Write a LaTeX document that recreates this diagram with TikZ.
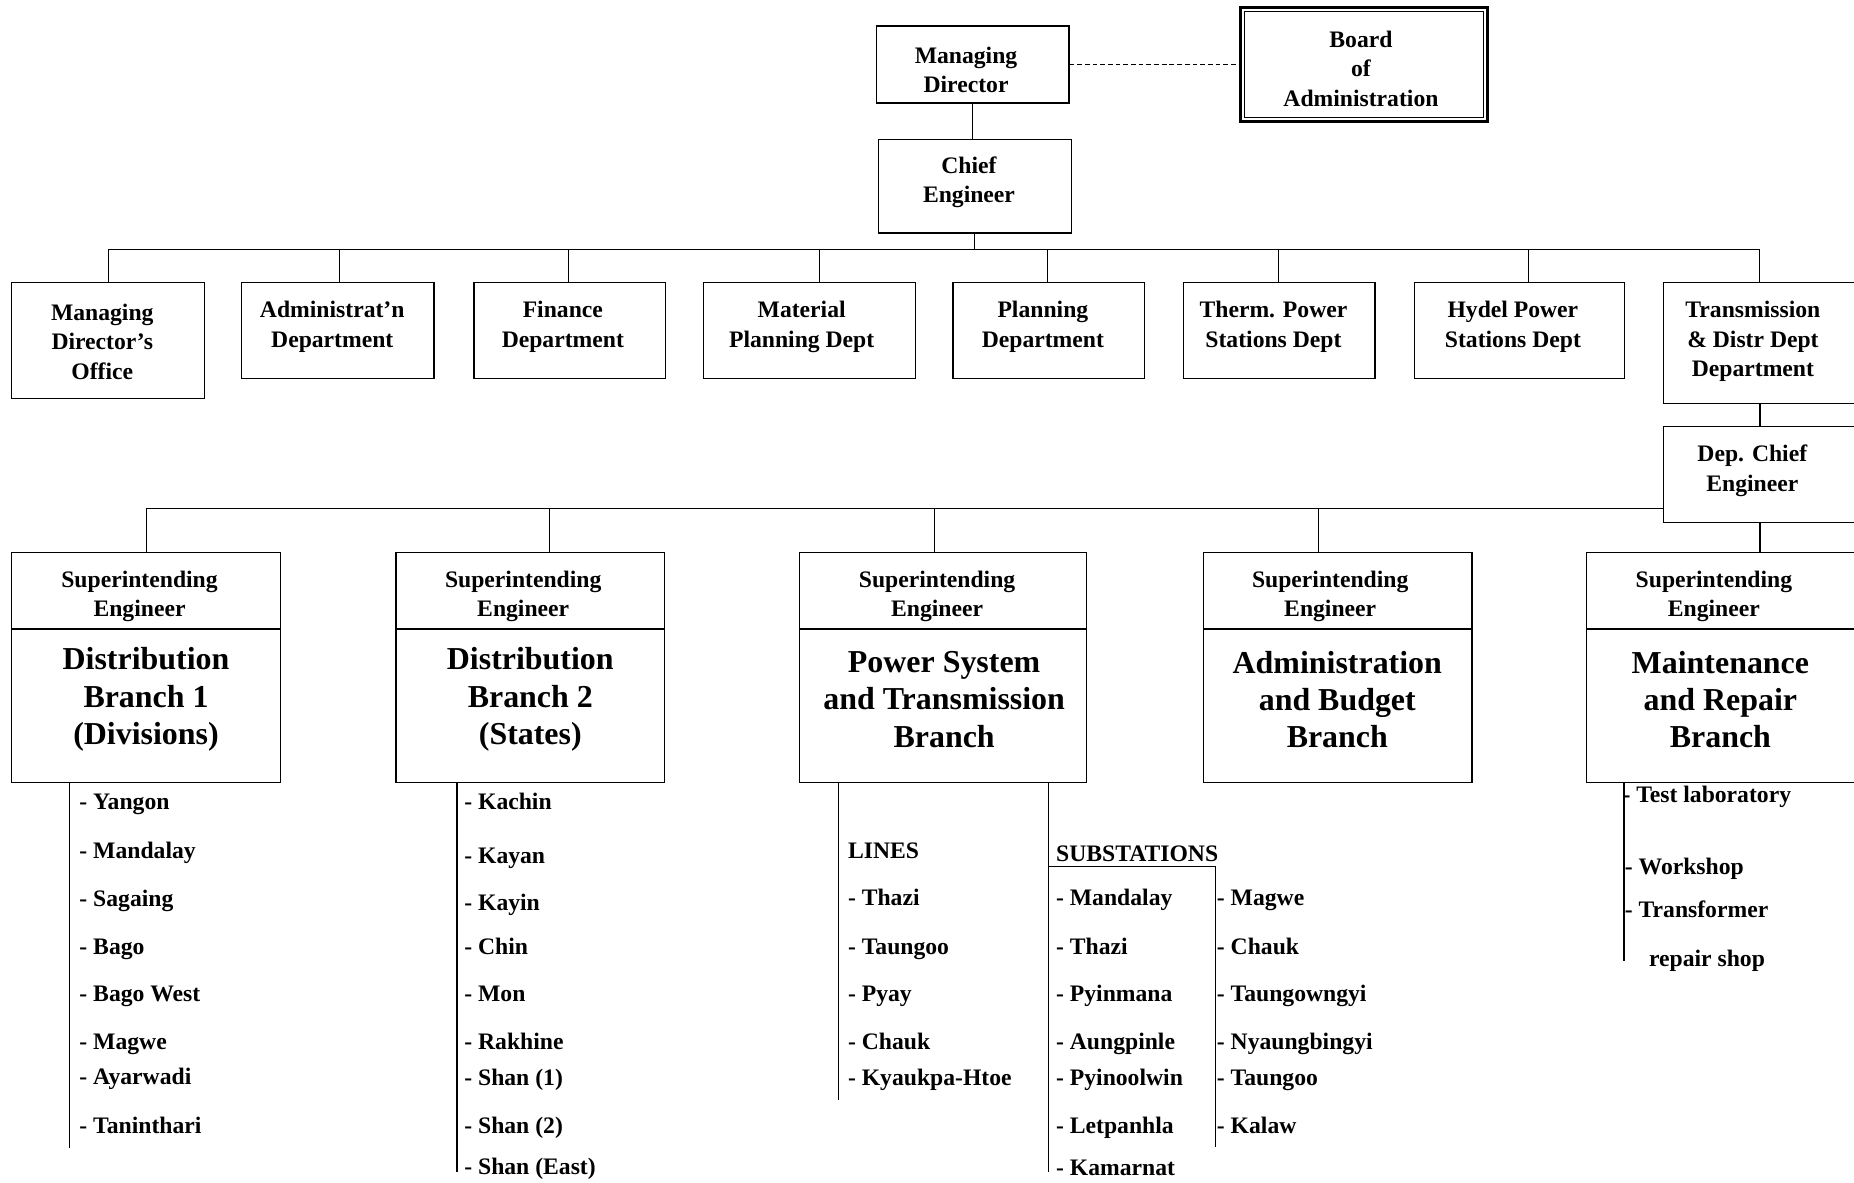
\documentclass[tikz,border=0pt]{standalone}
\usepackage{fontspec}
\setmainfont{Liberation Serif}
\usetikzlibrary{calc}
\begin{document}
\begin{tikzpicture}[x=1pt,y=-1pt,
  box/.style={draw=black,line width=1.1pt,inner sep=0pt,fill=white},
  conn/.style={draw=black,line width=1pt},
  lbl/.style={inner sep=0pt,align=center,yshift=-2pt,font=\bfseries\fontsize{20}{25}\selectfont},
  biglbl/.style={inner sep=0pt,align=center,yshift=-1.5pt,font=\bfseries\fontsize{27}{31.5}\selectfont},
  item/.style={inner sep=0pt,anchor=west,yshift=-2pt,text height=14pt,text depth=4pt,font=\bfseries\fontsize{20}{24}\selectfont}]
\useasboundingbox (0,0) rectangle (1568,1000.5);

% ---- top management ----
\node[box,minimum width=163,minimum height=65] (md) at (822.5,54.5) {};
\node[lbl] (mdT) at (817,57) {Managing\\Director};
\node[draw=black,line width=2.5pt,inner sep=0pt,minimum width=209,minimum height=97] (board) at (1153.5,54.5) {};
\draw[line width=0.9pt] ([shift={(5,5)}]board.north west) rectangle ([shift={(-5,-5)}]board.south east);
\node[lbl] (boardT) at (1151,56) {Board\\of\\Administration};
\draw[conn,dash pattern=on 4pt off 2.5pt] (md.east) -- (board.west);

\node[box,minimum width=163,minimum height=79] (ce) at (824.5,157.5) {};
\node[lbl] (ceT) at (819.5,152) {Chief\\Engineer};
\draw[conn] (md.south) -- (md.south |- ce.north);

% ---- departments ----
\node[box,minimum width=163,minimum height=98] (dmo) at (91.5,288) {};
\node[box,minimum width=163,minimum height=81] (dad) at (285.5,279.5) {};
\node[box,minimum width=162,minimum height=81] (dfi) at (482,279.5) {};
\node[box,minimum width=179,minimum height=81] (dmp) at (684.5,279.5) {};
\node[box,minimum width=162,minimum height=81] (dpl) at (887,279.5) {};
\node[box,minimum width=162,minimum height=81] (dth) at (1082,279.5) {};
\node[box,minimum width=178,minimum height=81] (dhy) at (1285,279.5) {};
\node[box,minimum width=163,minimum height=102] (dtr) at (1488.5,290) {};
\node[box,minimum width=163,minimum height=81] (dce) at (1488.5,401.5) {};

\node[lbl] (dmoT) at (86.5,287) {Managing\\Director’s\\Office};
\node[lbl] (dadT) at (281,274.5) {Administrat’n\\Department};
\node[lbl] (dfiT) at (476,274.5) {Finance\\Department};
\node[lbl] (dmpT) at (678,274.5) {Material\\Planning Dept};
\node[lbl] (dplT) at (882,274.5) {Planning\\Department};
\node[lbl] (dthT) at (1077,274.5) {Therm. Power\\Stations Dept};
\node[lbl] (dhyT) at (1279.5,274.5) {Hydel Power\\Stations Dept};
\node[lbl] (dtrT) at (1482.5,287) {Transmission\\\& Distr Dept\\Department};
\node[lbl] (dceT) at (1482,396) {Dep. Chief\\Engineer};

% first bus
\coordinate (t1) at (92,211);
\coordinate (t2) at (287,211);
\coordinate (t3) at (481,211);
\coordinate (t4) at (693,211);
\coordinate (t5) at (886,211);
\coordinate (t6) at (1081,211);
\coordinate (t7) at (1293,211);
\coordinate (t8) at (1488,211);
\draw[conn] (ce.south) -- (ce.south |- t1);
\draw[conn] (t1) -- (t8);
\draw[conn] (t1) -- (t1 |- dmo.north);
\draw[conn] (t2) -- (t2 |- dad.north);
\draw[conn] (t3) -- (t3 |- dfi.north);
\draw[conn] (t4) -- (t4 |- dmp.north);
\draw[conn] (t5) -- (t5 |- dpl.north);
\draw[conn] (t6) -- (t6 |- dth.north);
\draw[conn] (t7) -- (t7 |- dhy.north);
\draw[conn] (t8) -- (t8 |- dtr.north);
\draw[conn] (dtr.south) -- (dce.north);

% ---- branches ----
\node[box,minimum width=227,minimum height=65] (sb1) at (123.5,499.5) {};
\node[box,minimum width=227,minimum height=130] (br1) at (123.5,597) {};
\node[box,minimum width=227,minimum height=65] (sb2) at (448.5,499.5) {};
\node[box,minimum width=227,minimum height=130] (br2) at (448.5,597) {};
\node[box,minimum width=243,minimum height=65] (sb3) at (797.5,499.5) {};
\node[box,minimum width=243,minimum height=130] (br3) at (797.5,597) {};
\node[box,minimum width=227,minimum height=65] (sb4) at (1131.5,499.5) {};
\node[box,minimum width=227,minimum height=130] (br4) at (1131.5,597) {};
\node[box,minimum width=227,minimum height=65] (sb5) at (1455.5,499.5) {};
\node[box,minimum width=227,minimum height=130] (br5) at (1455.5,597) {};

\node[lbl] (sb1T) at (118,502.5) {Superintending\\Engineer};
\node[lbl] (sb2T) at (442.5,502.5) {Superintending\\Engineer};
\node[lbl] (sb3T) at (792.5,502.5) {Superintending\\Engineer};
\node[lbl] (sb4T) at (1125,502.5) {Superintending\\Engineer};
\node[lbl] (sb5T) at (1449.5,502.5) {Superintending\\Engineer};
\node[biglbl] (br1T) at (123.5,590) {Distribution\\Branch 1\\(Divisions)};
\node[biglbl] (br2T) at (448.5,590) {Distribution\\Branch 2\\(States)};
\node[biglbl] (br3T) at (798.5,590) {Power System\\and Transmission\\Branch};
\node[biglbl] (br4T) at (1131,590) {Administration\\and Budget\\Branch};
\node[biglbl] (br5T) at (1455,590) {Maintenance\\and Repair\\Branch};

% second bus
\coordinate (u1) at (124,430);
\coordinate (u2) at (465,430);
\coordinate (u3) at (790,430);
\coordinate (u4) at (1115,430);
\draw[conn] (u1) -- (u1 -| dce.west);
\draw[conn] (u1) -- (u1 |- sb1.north);
\draw[conn] (u2) -- (u2 |- sb2.north);
\draw[conn] (u3) -- (u3 |- sb3.north);
\draw[conn] (u4) -- (u4 |- sb4.north);
\draw[conn] (dce.south) -- (dce.south |- sb5.north);

% ---- lists ----
\coordinate (c1) at (59,971);
\coordinate (c2) at (386.5,991);
\coordinate (c3) at (709,930);
\coordinate (c4) at (887,991);
\coordinate (c4a) at (887,732.5);
\coordinate (c5) at (1028,970);
\coordinate (c6) at (1373.5,813);
\draw[conn] (c1 |- br1.south) -- (c1);
\draw[conn] (c2 |- br2.south) -- (c2);
\draw[conn] (c3 |- br3.south) -- (c3);
\draw[conn] (c4 |- br3.south) -- (c4);
\draw[conn] (c4a) -- (c4a -| c5) -- (c5);
\draw[conn] (c6 |- br5.south) -- (c6);

% divisions
\node[item] (a1) at (67,678) {- Yangon};
\node[item] (a2) at (67,719) {- Mandalay};
\node[item] (a3) at (67,759.5) {- Sagaing};
\node[item] (a4) at (67,800) {- Bago};
\node[item] (a5) at (67,840) {- Bago West};
\node[item] (a6) at (67,880.5) {- Magwe};
\node[item] (a7) at (67,910.5) {- Ayarwadi};
\node[item] (a8) at (67,951.5) {- Taninthari};

% states
\node[item] (b1) at (392.5,678) {- Kachin};
\node[item] (b2) at (392.5,723) {- Kayan};
\node[item] (b3) at (392.5,763) {- Kayin};
\node[item] (b4) at (392.5,800) {- Chin};
\node[item] (b5) at (392.5,840) {- Mon};
\node[item] (b6) at (392.5,880.5) {- Rakhine};
\node[item] (b7) at (392.5,911) {- Shan (1)};
\node[item] (b8) at (392.5,951.5) {- Shan (2)};
\node[item] (b9) at (392.5,986.5) {- Shan (East)};

% lines
\node[item] (l0) at (717,719) {LINES};
\node[item] (l1) at (717,759) {- Thazi};
\node[item] (l2) at (717,800) {- Taungoo};
\node[item] (l3) at (717,840) {- Pyay};
\node[item] (l4) at (717,880.5) {- Chauk};
\node[item] (l5) at (717,911) {- Kyaukpa-Htoe};

% substations
\node[item] (s0) at (893,722) {SUBSTATIONS};
\node[item] (s1) at (893,759) {- Mandalay};
\node[item] (s2) at (893,800) {- Thazi};
\node[item] (s3) at (893,840) {- Pyinmana};
\node[item] (s4) at (893,880.5) {- Aungpinle};
\node[item] (s5) at (893,911) {- Pyinoolwin};
\node[item] (s6) at (893,951.5) {- Letpanhla};
\node[item] (s7) at (893,987) {- Kamarnat};
\node[item] (r1) at (1029,759) {- Magwe};
\node[item] (r2) at (1029,800) {- Chauk};
\node[item] (r3) at (1029,840) {- Taungowngyi};
\node[item] (r4) at (1029,880.5) {- Nyaungbingyi};
\node[item] (r5) at (1029,911) {- Taungoo};
\node[item] (r6) at (1029,951.5) {- Kalaw};

% maintenance
\node[item] (m1) at (1372,671.5) {- Test laboratory};
\node[item] (m2) at (1374,733) {- Workshop};
\node[item] (m3) at (1374,769) {- Transformer};
\node[item] (m4) at (1394.5,810) {repair shop};
\end{tikzpicture}
\end{document}
